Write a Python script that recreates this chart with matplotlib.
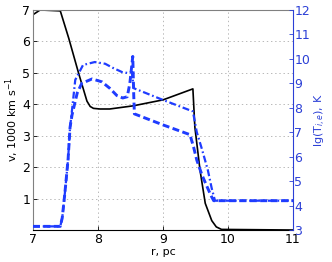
import matplotlib
matplotlib.use("Agg")
import matplotlib.pyplot as plt

plt.rcParams['lines.scale_dashes'] = False
plt.rcParams['font.family'] = ['DejaVu Sans']

# velocity (black, left axis)
r_v = [7.0, 7.11, 7.42, 7.55, 7.7, 7.83, 7.88, 7.93, 8.03, 8.18, 8.54, 9.0, 9.46,
       9.49, 9.57, 9.65, 9.75, 9.82, 9.9, 11.0]
v = [6.85, 7.0, 6.97, 6.1, 5.0, 4.1, 3.93, 3.87, 3.85, 3.85, 3.95, 4.14, 4.49,
     3.28, 1.9, 0.85, 0.3, 0.1, 0.02, 0.0]

# lg(T) dashed (blue, right axis)
r_t1 = [7.0, 7.42, 7.45, 7.49, 7.54, 7.57, 7.6, 7.68, 7.75, 7.91, 8.06, 8.18,
        8.29, 8.38, 8.45, 8.49, 8.535, 8.55, 8.56, 9.0, 9.415, 9.47, 9.52,
        9.6, 9.68, 9.74, 9.78, 11.0]
t1 = [3.15, 3.15, 3.5, 4.5, 5.9, 7.2, 7.7, 8.6, 9.0, 9.18, 9.06, 8.8,
      8.5, 8.4, 8.45, 9.0, 10.1, 8.5, 7.75, 7.3, 6.9, 6.4, 5.86,
      5.25, 4.76, 4.4, 4.2, 4.2]

# lg(T) dash-dot (blue, right axis)
r_t2 = [7.0, 7.42, 7.45, 7.49, 7.54, 7.57, 7.6, 7.65, 7.77, 7.95, 8.11, 8.23,
        8.37, 8.46, 8.52, 8.55, 9.0, 9.46, 9.52, 9.6, 9.69, 9.75, 9.8, 11.0]
t2 = [3.15, 3.15, 3.5, 4.5, 5.9, 7.2, 7.9, 9.14, 9.75, 9.87, 9.8, 9.63,
      9.46, 9.42, 9.46, 8.8, 8.32, 7.85, 7.0, 6.3, 5.45, 4.7, 4.2, 4.2]

x_ticks = [7, 8, 9, 10, 11]
v_ticks = [1, 2, 3, 4, 5, 6, 7]
t_ticks = [3, 4, 5, 6, 7, 8, 9, 10, 11, 12]

blue = '#1f3cff'
axblue = '#2b3fd6'

fig = plt.figure(figsize=(3.32, 2.62), dpi=100)
ax = fig.add_axes([0.0994, 0.122, 0.7831, 0.840])
ax.plot(r_v, v, color='black', lw=1.2)
ax.set_xlim(7, 11)
ax.set_ylim(0, 7)
ax.set_xticks(x_ticks)
ax.set_yticks(v_ticks)
ax.grid(True, color='#b8b8b8', linestyle=(0, (1, 2)), lw=0.7)
ax.tick_params(direction='in', labelsize=9, length=3, width=0.6, top=False, pad=2)
ax.set_xlabel('r, pc', fontsize=8, labelpad=1)
ax.set_ylabel(r'v, 1000 km s$^{-1}$', fontsize=8, labelpad=1)
ax.spines['left'].set_color('#808080')
ax.spines['top'].set_color('#808080')
ax.spines['bottom'].set_color('black')
ax.spines['right'].set_visible(False)

ax2 = ax.twinx()
ax2.plot(r_t1, t1, color=blue, lw=2.1, linestyle=(0, (5, 2.5)))
ax2.plot(r_t2, t2, color=blue, lw=1.6, linestyle=(0, (5, 2, 1.2, 2)))
ax2.set_ylim(3, 12)
ax2.set_yticks(t_ticks)
ax2.tick_params(axis='y', direction='in', labelsize=9, length=3, width=0.6,
                colors=axblue, pad=1)
ax2.set_ylabel(r'lg(T$_{i,e}$), K', fontsize=8, color=axblue, labelpad=2)
ax2.spines['right'].set_color(axblue)
ax2.spines['left'].set_visible(False)
ax2.spines['top'].set_visible(False)
ax2.spines['bottom'].set_visible(False)

fig.savefig('out.png', dpi=100)
